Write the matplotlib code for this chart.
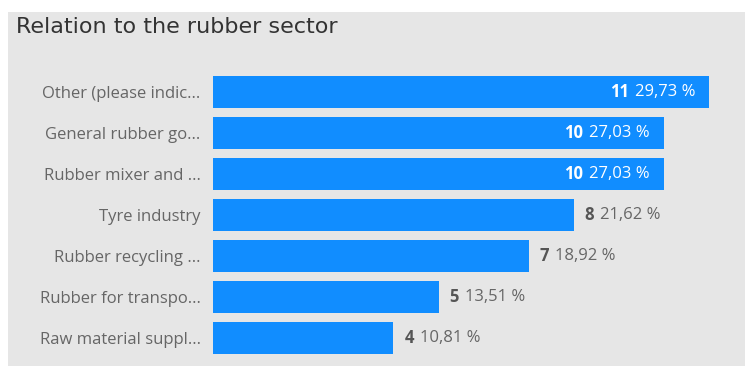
import matplotlib
matplotlib.use("Agg")
import matplotlib.pyplot as plt
from matplotlib.patches import Rectangle

categories = [
    "Other (please indic...",
    "General rubber go...",
    "Rubber mixer and ...",
    "Tyre industry",
    "Rubber recycling ...",
    "Rubber for transpo...",
    "Raw material suppl...",
]
counts = [11, 10, 10, 8, 7, 5, 4]
percent_labels = ["29,73 %", "27,03 %", "27,03 %", "21,62 %", "18,92 %", "13,51 %", "10,81 %"]
title = "Relation to the rubber sector"

W, H = 745, 367
BAR = "#118DFF"
PANEL = "#E6E6E6"
FS = 12

fig = plt.figure(figsize=(W / 100, H / 100), dpi=100)
fig.patch.set_facecolor("white")
fig.patches.append(Rectangle((8 / W, 1 / H), 1 - 8 / W, (H - 12) / H - 1 / H,
                             transform=fig.transFigure, facecolor=PANEL,
                             edgecolor="none", zorder=-10))

fig.text(16 / W, 1 - 33 / H, title, fontsize=16, color="#333333",
         family="DejaVu Sans", va="baseline", ha="left")

ax_left, ax_right = 213 / W, 1.0
ax_top, ax_bot = 1 - 71.5 / H, 1 - 358.5 / H
ax = fig.add_axes([ax_left, ax_bot, ax_right - ax_left, ax_top - ax_bot])
ax.set_facecolor("none")
ax.set_zorder(1)
px_per_unit = 45.1
ax.set_xlim(0, (W - 213) / px_per_unit)
ax.set_ylim(len(categories) - 0.5, -0.5)

y = list(range(len(categories)))
ax.barh(y, counts, height=0.77, color=BAR, edgecolor="none")

ax.set_yticks(y)
ax.set_yticklabels(categories, family="Open Sans", fontsize=FS, color="#666666")
ax.tick_params(axis="y", length=0, pad=9)
ax.set_xticks([])
for s in ax.spines.values():
    s.set_visible(False)

fig.canvas.draw()
for i, (c, p) in enumerate(zip(counts, percent_labels)):
    inside = c >= 10
    if inside:
        pt = ax.annotate(p, xy=(c, i), xytext=(-14, 0), textcoords="offset pixels",
                         ha="right", va="center", fontsize=FS, family="Open Sans",
                         color="white")
        ax.annotate(str(c), xy=(0, 0.5), xycoords=pt, xytext=(-6, 0),
                    textcoords="offset pixels", ha="right", va="center",
                    fontsize=FS, family="Open Sans", fontweight="bold", color="white")
    else:
        nt = ax.annotate(str(c), xy=(c, i), xytext=(11, 0), textcoords="offset pixels",
                         ha="left", va="center", fontsize=FS, family="Open Sans",
                         fontweight="bold", color="#555555")
        ax.annotate(p, xy=(1, 0.5), xycoords=nt, xytext=(6, 0),
                    textcoords="offset pixels", ha="left", va="center",
                    fontsize=FS, family="Open Sans", color="#666666")

fig.savefig("out.png", dpi=100, facecolor=fig.get_facecolor())
